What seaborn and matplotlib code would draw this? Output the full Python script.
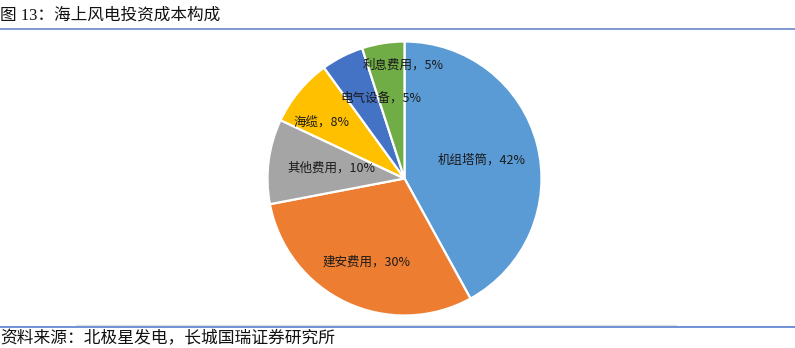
import numpy as np
import matplotlib
matplotlib.use("Agg")
import matplotlib.pyplot as plt
import seaborn as sns
from matplotlib.lines import Line2D

# Offshore wind investment cost breakdown (share, %)
categories = ["机组塔筒", "建安费用", "其他费用", "海缆", "电气设备", "利息费用"]
shares = [42, 30, 10, 8, 5, 5]
colors = ["#5B9BD5", "#ED7D31", "#A5A5A5", "#FFC000", "#4472C4", "#70AD47"]

title_text = "图 13：海上风电投资成本构成"
source_text = "资料来源：北极星发电，长城国瑞证券研究所"

sns.set_theme(style="white")
plt.rcParams["font.family"] = ["Noto Sans CJK SC", "DejaVu Sans"]

W, H = 795, 348
fig = plt.figure(figsize=(W / 100, H / 100), dpi=100)

# square axes holding the pie, centred at (404.5, 178.5) px, radius 137 px
cx, cy, r = 404.5, 178.5, 137
ax = fig.add_axes([(cx - r) / W, (H - cy - r) / H, 2 * r / W, 2 * r / H])
palette = sns.color_palette(colors)
wedges, _ = ax.pie(
    shares,
    colors=palette,
    startangle=90,
    counterclock=False,
    radius=1.0,
    wedgeprops=dict(edgecolor="white", linewidth=1.6),
)
ax.set_xlim(-1, 1)
ax.set_ylim(-1, 1)
ax.set_aspect("equal")
ax.axis("off")

# label placement: radial fraction and angular nudge per wedge
label_r = [0.578, 0.669, 0.538, 0.734, 0.615, 0.828]
label_dtheta = [-0.9, 0.4, -0.8, 5.2, -10.5, -8.2]
for w, name, val, rf, dt in zip(wedges, categories, shares, label_r, label_dtheta):
    mid = np.deg2rad((w.theta1 + w.theta2) / 2 + dt)
    ax.text(rf * np.cos(mid), rf * np.sin(mid), f"{name}，{val}%",
            ha="center", va="center", fontsize=9.0, color="#1a1a1a")

# title (serif digits) and rule below it
fig.text(0.5 / W, 1 - 16 / H, title_text, ha="left", va="center",
         fontsize=12.0, color="#111111",
         family=["Liberation Serif", "Noto Sans CJK SC"])
fig.add_artist(Line2D([0, 1], [1 - 28.5 / H] * 2, color="#7F98CF", lw=1.4,
                      transform=fig.transFigure))

# faint chart-area border and source rule
fig.add_artist(Line2D([76 / W, 676 / W], [1 - 325 / H] * 2, color="#E2E2E2",
                      lw=1.0, transform=fig.transFigure))
fig.add_artist(Line2D([0, 1], [1 - 326.5 / H] * 2, color="#6F90D6", lw=1.4,
                      transform=fig.transFigure))
fig.text(0.5 / W, 1 - 339 / H, source_text, ha="left", va="center",
         fontsize=12.1, color="#111111")

fig.savefig("out.png", dpi=100)
